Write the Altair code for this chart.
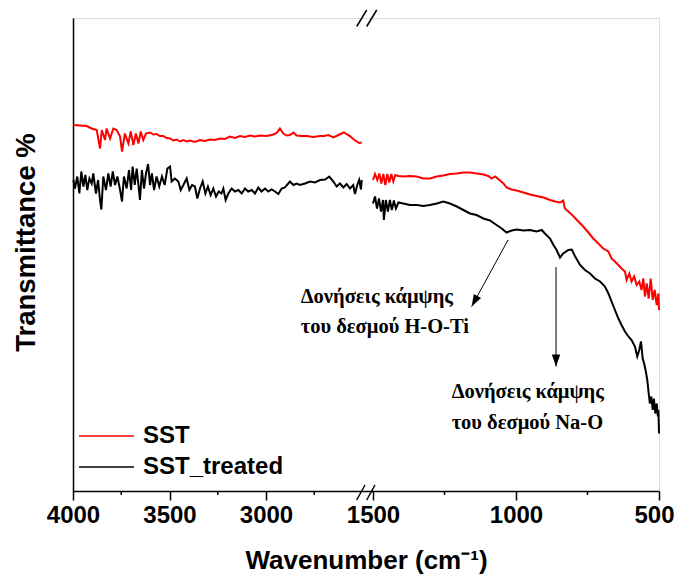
import altair as alt
import pandas as pd

# ---- data ----
series_names = ["SST", "SST_treated"]
series_colors = ["#ff0000", "#000000"]

# SST, 4000-2500 cm-1 segment
sst_hi_wn = [3998,3929,3903,3877,3860,3851,3834,3826,3808,3791,3774,3756,3746,3731,3713,3701,3687,3674,3661,3649,
             3636,3622,3601,3584,3567,3550,3532,3515,3497,3480,3463,3445,3428,3411,3394,3368,3342,3316,3290,3264,
             3238,3212,3187,3161,3135,3109,3083,3057,3031,2997,2962,2945,2928,2910,2893,2876,2858,2841,2815,2789,
             2755,2720,2698,2677,2651,2625,2596,2580,2565,2548,2530,2517,2504]
sst_hi_t = [73.2,73.0,72.5,72.2,68.5,72.2,70.2,72.5,70.5,72.5,72.2,70.9,67.9,71.5,69.5,71.9,69.2,71.5,69.5,71.9,
            70.2,71.5,71.7,71.3,71.4,71.0,71.0,70.6,70.5,70.1,70.3,69.9,70.2,69.9,70.1,69.8,70.2,70.0,70.3,70.2,
            70.5,70.4,70.9,70.6,71.0,70.8,71.1,70.9,71.1,71.0,71.3,71.6,72.5,71.5,71.1,71.2,71.7,71.1,71.0,71.0,
            70.8,71.0,71.0,71.2,70.7,71.2,71.7,71.3,71.0,70.4,69.9,69.6,69.7]

# SST_treated, 4000-2500 cm-1 segment
trt_hi_wn = [3998,3990,3978,3967,3957,3946,3936,3926,3915,3903,
             3895,3881,3870,3860,3853,3843,3829,3817,3805,3794,
             3782,3770,3756,3746,3736,3722,3710,3699,3691,3680,
             3670,3660,3653,3643,3632,3622,3611,3601,3591,3580,
             3567,3553,3539,3525,3511,3497,3489,3472,3454,3442,
             3428,3411,3397,3383,3368,3356,3342,3328,3314,3301,
             3287,3273,3259,3245,3231,3221,3209,3195,3178,3161,
             3143,3126,3109,3092,3074,3057,3040,3023,3005,2988,
             2971,2953,2936,2919,2902,2876,2858,2841,2824,2798,
             2772,2746,2720,2694,2672,2651,2634,2617,2599,2582,
             2565,2548,2539,2527,2517,2508,2504]
trt_hi_t = [62.2,60.5,62.9,59.5,63.9,60.9,63.2,60.2,62.5,61.5,
            63.5,59.5,62.2,58.2,56.3,62.9,60.2,63.5,60.9,63.9,
            61.2,62.9,60.2,57.9,62.9,60.5,64.2,60.2,64.9,61.2,
            64.5,60.9,58.2,64.2,60.5,63.5,65.4,61.2,63.5,60.2,
            62.9,60.9,62.9,61.2,64.5,64.9,61.9,62.5,61.9,60.2,
            61.2,62.5,60.2,61.2,60.9,58.5,60.5,61.9,59.5,60.9,
            59.2,60.5,58.9,59.9,59.5,60.5,58.2,59.5,60.5,59.9,
            60.2,59.5,60.5,59.9,60.2,59.5,60.7,59.9,60.5,59.9,
            60.3,59.9,59.4,60.5,60.7,61.9,61.2,61.5,61.2,61.5,
            61.9,61.7,62.2,62.3,62.9,61.9,60.9,61.5,60.7,61.4,
            60.5,61.2,59.4,61.2,62.2,60.3,62.2]

# SST, 1500-500 cm-1 segment
sst_lo_wn = [1500,1493,1485,1478,1471,1464,1457,1450,1443,1436,
             1429,1422,1411,1394,1371,1347,1324,1301,1277,1254,
             1231,1207,1184,1161,1138,1114,1097,1085,1073,1058,
             1044,1033,1015,998,974,951,928,904,881,864,
             846,835,829,817,800,782,765,747,730,712,
             695,677,666,654,642,631,619,613,604,596,
             587,578,569,561,555,549,543,536,529,522,
             515,508,502,500]
sst_lo_t = [62.2,63.4,62.2,63.5,61.5,63.4,61.2,63.4,61.7,63.4,
            61.9,63.2,63.0,62.9,63.0,62.9,62.5,62.5,62.9,63.1,
            63.4,63.5,63.7,63.7,63.5,63.3,63.0,62.5,62.9,62.2,
            61.5,60.7,60.3,60.1,59.7,59.3,59.0,58.7,58.2,57.9,
            57.7,58.1,56.5,55.9,55.0,53.9,52.9,51.7,50.5,49.5,
            48.5,47.9,46.5,45.9,45.2,44.5,43.9,42.2,43.5,41.9,
            42.9,41.2,41.9,40.2,42.5,38.9,41.5,38.5,42.5,38.2,
            40.2,37.2,39.5,36.2]

# SST_treated, 1500-500 cm-1 segment
trt_lo_wn = [1500,1493,1486,1479,1472,1465,1462,1455,1448,1441,
             1434,1427,1420,1411,1394,1371,1347,1324,1301,1277,
             1254,1231,1207,1184,1161,1138,1114,1091,1068,1050,
             1033,1015,998,974,951,928,910,899,881,869,
             858,846,835,817,805,794,776,759,741,724,
             706,689,677,666,654,642,631,619,607,596,
             584,576,569,563,557,552,546,541,536,532,
             527,522,518,513,508,504,502,500]
trt_lo_t = [57.5,58.9,56.5,58.5,55.9,58.2,54.2,58.2,55.9,58.2,
            56.2,58.1,56.5,57.7,57.5,57.2,57.2,57.0,57.2,57.5,
            57.9,57.5,56.9,56.2,55.5,55.2,54.5,54.1,53.2,52.5,
            51.7,52.1,52.3,52.1,52.2,51.9,52.2,51.5,50.5,49.2,
            48.2,46.7,47.5,48.2,48.3,47.0,45.2,44.2,43.5,42.5,
            41.9,40.9,39.5,37.9,36.2,34.5,33.2,31.9,30.9,30.2,
            28.9,26.9,28.2,29.9,26.5,25.5,23.9,22.2,19.5,17.5,
            18.9,16.2,18.5,15.5,17.5,14.9,16.2,11.5]

# axis ticks
major_ticks = [4000, 3500, 3000, 1500, 1000, 500]
minor_ticks = [3750, 3250, 2750, 1250, 750]
minor_tick_len = 0.8  # in transmittance units below the axis

# annotations (wavenumber, transmittance, text)
note_wn = [2820, 2820, 1225, 1225]
note_t = [38.9, 32.9, 19.9, 13.7]
note_text = ["Δονήσεις κάμψης", "του δεσμού H-O-Ti", "Δονήσεις κάμψης", "του δεσμού Na-O"]

# arrows: start (wn, t) -> tip (wn2, t2)
arrow_wn = [1028, 860]
arrow_t = [50.2, 44.8]
arrow_wn2 = [1155, 860]
arrow_t2 = [36.9, 24.9]
arrow_angle = [28.6, 0]

# axis-break slashes
brk_wn = [2530, 2100, 2530, 2100]
brk_t = [92.9, 92.9, -1.8, -1.8]
brk_wn2 = [2100, 1487, 2262, 1493]
brk_t2 = [96.2, 96.2, 1.2, 1.2]

# ---- build tables ----
rows = []
for name, seg, wns, ts in [("SST", "hi", sst_hi_wn, sst_hi_t), ("SST_treated", "hi", trt_hi_wn, trt_hi_t),
                           ("SST", "lo", sst_lo_wn, sst_lo_t), ("SST_treated", "lo", trt_lo_wn, trt_lo_t)]:
    assert len(wns) == len(ts)
    for w, t in zip(wns, ts):
        rows.append({"series": name, "seg": name + seg, "wn": w, "t": t})
df = pd.DataFrame(rows)

notes = pd.DataFrame({"wn": note_wn, "t": note_t, "text": note_text})
arrows = pd.DataFrame({"wn": arrow_wn, "t": arrow_t, "wn2": arrow_wn2, "t2": arrow_t2, "angle": arrow_angle})
brks = pd.DataFrame({"wn": brk_wn, "t": brk_t, "wn2": brk_wn2, "t2": brk_t2})
minors = pd.DataFrame({"wn": minor_ticks, "t": [0] * len(minor_ticks), "t2": [-minor_tick_len] * len(minor_ticks)})

W, H = 586, 473
xscale = alt.Scale(domain=[4000, 2500, 1500, 500], range=[0, 289.5, 300, W], nice=False, zero=False)
yscale = alt.Scale(domain=[0, 94.6], nice=False, zero=False)

xaxis = alt.Axis(
    title="Wavenumber (cm⁻¹)", values=major_ticks, format="d", tickSize=9,
    labelFont="Liberation Sans", labelFontSize=24, labelFontWeight="bold", labelColor="black",
    labelPadding=3, labelFlush=False, labelOverlap=False,
    labelOffset={"condition": {"test": "datum.value === 500", "value": -5}, "value": 0},
    titleFont="Liberation Sans", titleFontSize=26, titleFontWeight="bold", titleColor="black",
    titleY=69, titleBaseline="middle",
    domainColor="black", domainWidth=1.5, tickColor="black", tickWidth=1.5, grid=False,
)
yaxis = alt.Axis(
    title="Transmittance %", ticks=False, labels=False, grid=False,
    domainColor="black", domainWidth=1.5,
    titleFont="Liberation Sans", titleFontSize=27.5, titleFontWeight="bold", titleColor="black",
    titleX=-47, titleY=224, titleBaseline="middle",
)

X = alt.X("wn:Q", scale=xscale, axis=xaxis)
Y = alt.Y("t:Q", scale=yscale, axis=yaxis)

lines = alt.Chart(df).mark_line(strokeWidth=2, clip=False).encode(
    x=X, y=Y,
    color=alt.Color("series:N", scale=alt.Scale(domain=series_names, range=series_colors),
                    legend=alt.Legend(orient="none", legendX=5, legendY=406, title=None,
                                      labelFont="Liberation Sans", labelFontSize=24, labelFontWeight="bold",
                                      labelColor="black", symbolType="M-1,0H4", symbolSize=484,
                                      symbolStrokeWidth=1.5, labelOffset=41, rowPadding=7, padding=0)),
    detail="seg:N",
)

text = alt.Chart(notes).mark_text(align="left", baseline="middle", font="Liberation Serif",
                                  fontSize=20.5, fontWeight="bold", color="black").encode(
    x=X, y=Y, text="text:N")

arrow_lines = alt.Chart(arrows).mark_rule(color="black", strokeWidth=1).encode(
    x=X, y=Y, x2="wn2:Q", y2="t2:Q")

arrow_heads = alt.Chart(arrows).mark_point(shape="M0,0L-0.35,-1L0.35,-1Z", filled=True, color="black",
                                           size=576, opacity=1).encode(
    x=alt.X("wn2:Q", scale=xscale, axis=xaxis), y=alt.Y("t2:Q", scale=yscale, axis=yaxis),
    angle=alt.Angle("angle:Q", scale=None))

minor_rules = alt.Chart(minors).mark_rule(color="black", strokeWidth=1.5, clip=False).encode(
    x=X, y=Y, y2="t2:Q")

breaks = alt.Chart(brks).mark_rule(color="black", strokeWidth=1.5, clip=False).encode(
    x=X, y=Y, x2="wn2:Q", y2="t2:Q")

chart = alt.layer(lines, text, arrow_lines, arrow_heads, minor_rules, breaks).properties(
    width=W, height=H,
    autosize=alt.AutoSizeParams(type="none"),
    padding={"left": 65, "top": 10, "right": 16, "bottom": 85},
).configure_view(stroke="black", strokeWidth=1.5).configure(background="white")

chart.save("out.html", embed_options={"renderer": "svg", "actions": False})
